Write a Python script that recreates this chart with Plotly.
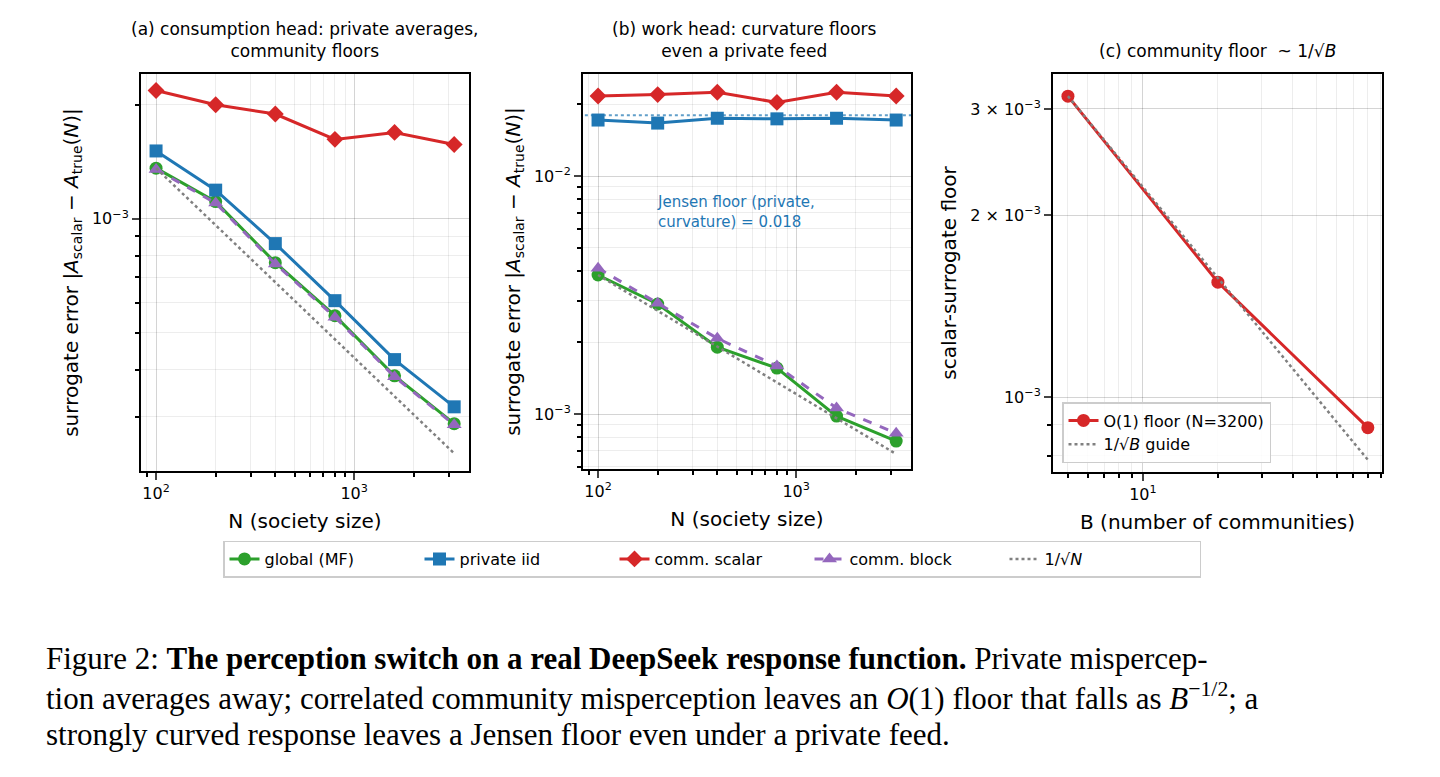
import plotly.graph_objects as go
import numpy as np

N = [100, 200, 400, 800, 1600, 3200]
a_global = [1.36e-3, 1.11e-3, 7.66e-4, 5.55e-4, 3.85e-4, 2.88e-4]
a_private = [1.51e-3, 1.19e-3, 8.6e-4, 6.08e-4, 4.25e-4, 3.19e-4]
a_scalar = [2.18e-3, 2.0e-3, 1.89e-3, 1.62e-3, 1.69e-3, 1.57e-3]
a_block = [1.35e-3, 1.10e-3, 7.6e-4, 5.5e-4, 3.83e-4, 2.86e-4]
b_global = [3.84e-3, 2.9e-3, 1.91e-3, 1.56e-3, 9.8e-4, 7.7e-4]
b_private = [0.0172, 0.0167, 0.0175, 0.0174, 0.0175, 0.0172]
b_scalar = [0.0217, 0.022, 0.0225, 0.0204, 0.0225, 0.0217]
b_block = [4.1e-3, 2.92e-3, 2.08e-3, 1.59e-3, 1.06e-3, 8.3e-4]
jensen_floor = 0.018
B = [5, 20, 80]
c_floor = [3.15e-3, 1.55e-3, 0.89e-3]

GREEN, BLUE, RED, PURPLE, GRAY = "#2ca02c", "#1f77b4", "#d62728", "#9467bd", "#808080"
W, H = 1440, 777
OX, OY = 8, 7  # page body offset
def px(x0, x1): return [(x0 - OX) / W, (x1 - OX) / W]
def py(y0, y1): return [1 - (y1 - OY) / H, 1 - (y0 - OY) / H]
def PX(x): return (x - OX) / W
def PY(y): return 1 - (y - OY) / H

fig = go.Figure()
def guide(x, y0):
    return [y0 * np.sqrt(x[0] / v) for v in x]

series = [("global (MF)", GREEN, "circle", "solid"),
          ("private iid", BLUE, "square", "solid"),
          ("comm. scalar", RED, "diamond", "solid"),
          ("comm. block", PURPLE, "triangle-up", "dash")]
for k, (xa, ya, data) in enumerate([("x", "y", [a_global, a_private, a_scalar, a_block]),
                                    ("x2", "y2", [b_global, b_private, b_scalar, b_block])]):
    if k == 1:
        fig.add_trace(go.Scatter(x=[80, 4000], y=[jensen_floor, jensen_floor], mode="lines",
                                 line=dict(color=BLUE, dash="dot", width=2), opacity=0.7,
                                 showlegend=False, xaxis=xa, yaxis=ya))
    for (name, col, sym, dash), vals in zip(series, data):
        fig.add_trace(go.Scatter(x=N, y=vals, name=name, mode="lines+markers",
                                 line=dict(color=col, width=3, dash=dash),
                                 marker=dict(symbol=sym, size=13, color=col),
                                 showlegend=(k == 0), xaxis=xa, yaxis=ya))
    fig.add_trace(go.Scatter(x=N, y=guide(N, data[0][0]), name="1/√<i>N</i>", mode="lines",
                             line=dict(color=GRAY, dash="dot", width=2.5),
                             showlegend=(k == 0), xaxis=xa, yaxis=ya))

fig.add_trace(go.Scatter(x=B, y=c_floor, name="O(1) floor (N=3200)", mode="lines+markers",
                         line=dict(color=RED, width=3), marker=dict(size=13, color=RED),
                         xaxis="x3", yaxis="y3", legend="legend2"))
fig.add_trace(go.Scatter(x=B, y=guide(B, c_floor[0]), name="1/√<i>B</i> guide", mode="lines",
                         line=dict(color=GRAY, dash="dot", width=2.5),
                         xaxis="x3", yaxis="y3", legend="legend2"))

ax_common = dict(type="log", showline=True, linecolor="black", linewidth=2, mirror=True,
                 ticks="outside", ticklen=7, tickwidth=1.5, showgrid=True,
                 gridcolor="rgba(0,0,0,0.1)", zeroline=False,
                 tickfont=dict(size=16, color="black", family="DejaVu Sans"),
                 minor=dict(dtick="D1", showgrid=True, gridcolor="rgba(0,0,0,0.07)",
                            ticks="outside", ticklen=4, tickcolor="black"))
tf = dict(size=20, color="black", family="DejaVu Sans")
xN = dict(ax_common, range=[1.924, 3.58], tickvals=[100, 1000],
          ticktext=["10<sup>2</sup>", "10<sup>3</sup>"],
          title=dict(text="N (society size)", font=tf, standoff=12))
ylab = "surrogate error |<i>A</i><sub>scalar</sub> − <i>A</i><sub>true</sub>(<i>N</i>)|"
fig.update_layout(
    width=W, height=H, margin=dict(l=0, r=0, t=0, b=0),
    plot_bgcolor="white", paper_bgcolor="white",
    font=dict(family="DejaVu Sans", color="black"),
    xaxis=dict(xN, domain=px(141, 469), anchor="y"),
    yaxis=dict(ax_common, domain=py(73, 470), anchor="x", range=[np.log10(2.16e-4), np.log10(2.41e-3)],
               tickvals=[1e-3], ticktext=["10<sup>−3</sup>"],
               title=dict(text=ylab, font=tf, standoff=8)),
    xaxis2=dict(xN, domain=px(583, 911), anchor="y2"),
    yaxis2=dict(ax_common, domain=py(73, 468), anchor="x2", range=[-3.231, -1.571],
                tickvals=[1e-3, 1e-2], ticktext=["10<sup>−3</sup>", "10<sup>−2</sup>"],
                title=dict(text=ylab, font=tf, standoff=8)),
    xaxis3=dict(ax_common, domain=px(1053, 1382), anchor="y3", range=[0.639, 1.96],
                tickvals=[10], ticktext=["10<sup>1</sup>"],
                title=dict(text="B (number of communities)", font=tf, standoff=12)),
    yaxis3=dict(ax_common, domain=py(73, 471), anchor="x3", range=[-3.124, -2.465],
                tickvals=[1e-3, 2e-3, 3e-3],
                ticktext=["10<sup>−3</sup>", "2 × 10<sup>−3</sup>", "3 × 10<sup>−3</sup>"],
                title=dict(text="scalar-surrogate floor", font=tf, standoff=8)),
    legend=dict(orientation="h", x=PX(712), xanchor="center", y=PY(558), yanchor="middle",
                bordercolor="#cccccc", borderwidth=1.5, bgcolor="white",
                font=dict(size=16, color="black"), entrywidth=150),
    legend2=dict(x=PX(1062), xanchor="left", y=PY(462), yanchor="bottom",
                 xref="paper", yref="paper",
                 bordercolor="#cccccc", borderwidth=1.5, bgcolor="rgba(255,255,255,0.85)",
                 font=dict(size=16, color="black")),
)

tfont = dict(size=17, color="black", family="DejaVu Sans")
fig.add_annotation(x=PX(305), y=PY(39), xref="paper", yref="paper", showarrow=False, font=tfont,
                   xanchor="center", yanchor="middle",
                   text="(a) consumption head: private averages,<br>community floors")
fig.add_annotation(x=PX(745), y=PY(39), xref="paper", yref="paper", showarrow=False, font=tfont,
                   xanchor="center", yanchor="middle",
                   text="(b) work head: curvature floors<br>even a private feed")
fig.add_annotation(x=PX(1217), y=PY(50), xref="paper", yref="paper", showarrow=False, font=tfont,
                   xanchor="center", yanchor="middle",
                   text="(c) community floor  ~ 1/√<i>B</i>")
fig.add_annotation(x=PX(655), y=PY(190), xref="paper", yref="paper", showarrow=False,
                   xanchor="left", align="left", font=dict(size=15, color=BLUE),
                   text="Jensen floor (private,<br>curvature) = 0.018")

cap = dict(size=31, color="black", family="Liberation Serif")
lines = ["Figure 2: <b>The perception switch on a real DeepSeek response function.</b> Private mispercep-",
         "tion averages away; correlated community misperception leaves an <i>O</i>(1) floor that falls as <i>B</i><sup>−1/2</sup>; a",
         "strongly curved response leaves a Jensen floor even under a private feed."]
for i, t in enumerate(lines):
    fig.add_annotation(x=PX(44), y=PY(657 + 38 * i), xref="paper", yref="paper", showarrow=False,
                       xanchor="left", yanchor="middle", font=cap, text=t)

fig.write_html("out.html")
